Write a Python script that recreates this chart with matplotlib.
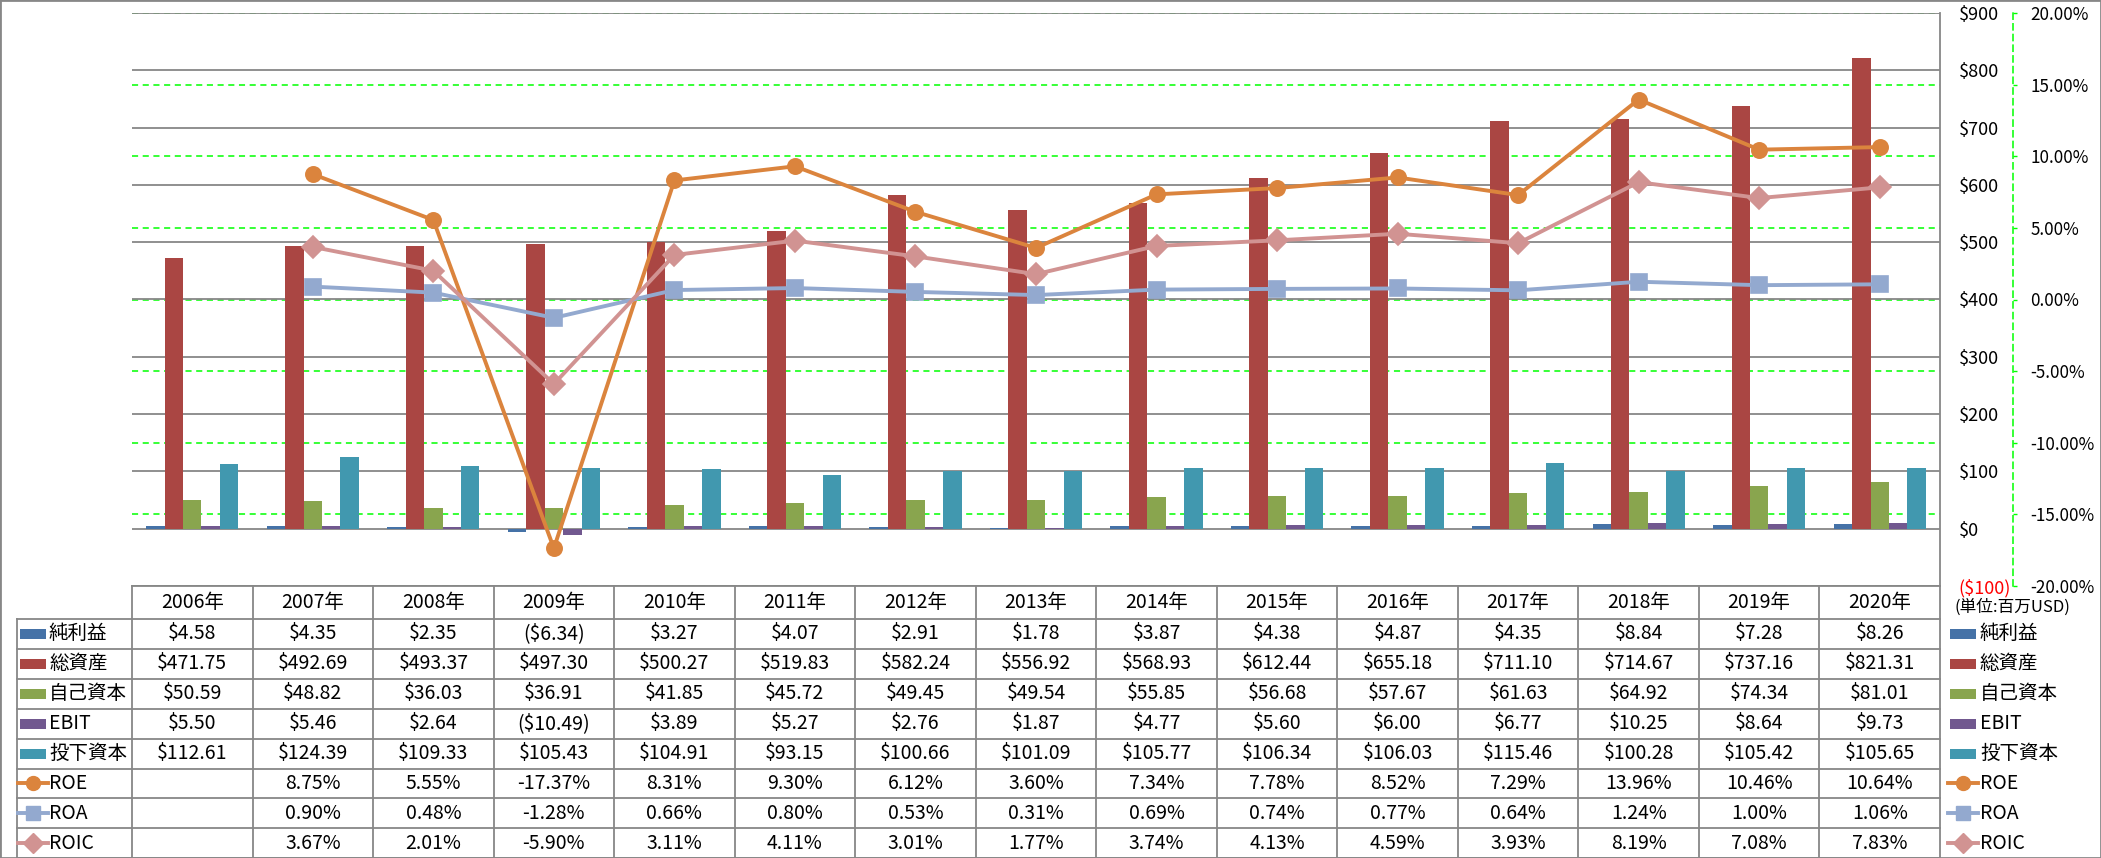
import numpy as np
import matplotlib
matplotlib.use("Agg")
import matplotlib.pyplot as plt
import matplotlib.transforms as mtransforms
from matplotlib.patches import Rectangle
from matplotlib.lines import Line2D

plt.rcParams['font.family'] = ['Noto Sans CJK JP', 'DejaVu Sans']

# ---------------- data ----------------
years = ['2006年', '2007年', '2008年', '2009年', '2010年', '2011年', '2012年', '2013年',
         '2014年', '2015年', '2016年', '2017年', '2018年', '2019年', '2020年']
net_income = [4.58, 4.35, 2.35, -6.34, 3.27, 4.07, 2.91, 1.78, 3.87, 4.38, 4.87, 4.35, 8.84, 7.28, 8.26]
total_assets = [471.75, 492.69, 493.37, 497.30, 500.27, 519.83, 582.24, 556.92, 568.93, 612.44,
                655.18, 711.10, 714.67, 737.16, 821.31]
equity = [50.59, 48.82, 36.03, 36.91, 41.85, 45.72, 49.45, 49.54, 55.85, 56.68, 57.67, 61.63,
          64.92, 74.34, 81.01]
ebit = [5.50, 5.46, 2.64, -10.49, 3.89, 5.27, 2.76, 1.87, 4.77, 5.60, 6.00, 6.77, 10.25, 8.64, 9.73]
invested_capital = [112.61, 124.39, 109.33, 105.43, 104.91, 93.15, 100.66, 101.09, 105.77, 106.34,
                    106.03, 115.46, 100.28, 105.42, 105.65]
roe = [np.nan, 8.75, 5.55, -17.37, 8.31, 9.30, 6.12, 3.60, 7.34, 7.78, 8.52, 7.29, 13.96, 10.46, 10.64]
roa = [np.nan, 0.90, 0.48, -1.28, 0.66, 0.80, 0.53, 0.31, 0.69, 0.74, 0.77, 0.64, 1.24, 1.00, 1.06]
roic = [np.nan, 3.67, 2.01, -5.90, 3.11, 4.11, 3.01, 1.77, 3.74, 4.13, 4.59, 3.93, 8.19, 7.08, 7.83]

bar_names = ['純利益', '総資産', '自己資本', 'EBIT', '投下資本']
bar_series = [net_income, total_assets, equity, ebit, invested_capital]
line_names = ['ROE', 'ROA', 'ROIC']
line_series = [roe, roa, roic]
primary_ticks = list(range(-100, 1000, 100))
secondary_ticks = list(range(-20, 25, 5))
unit_label = '(単位:百万USD)'

# ---------------- styles ----------------
bar_colors = ['#4572A7', '#AA4643', '#89A54E', '#71588F', '#4198AF']
line_colors = ['#DB843D', '#93A9CF', '#D19392']
line_markers = ['o', 's', 'D']
marker_sizes = [11, 11, 11]
GRAY = '#878787'
GREEN = '#00FF00'
FS = 14
FS_AX = 13

W, H = 2101, 858
fig = plt.figure(figsize=(W / 100, H / 100), dpi=100)
fig.patch.set_facecolor('white')

PL, PR, PT, PB = 132, 1940, 13, 586


def rect(x0, ytop, x1, ybot):
    return [x0 / W, 1 - ybot / H, (x1 - x0) / W, (ybot - ytop) / H]


ax = fig.add_axes(rect(PL, PT, PR, PB))
axg = ax.twinx()
ax2 = ax.twinx()
axg.set_zorder(0)
ax.set_zorder(1)
ax2.set_zorder(2)
for a in (ax, ax2, axg):
    a.patch.set_visible(False)

n = len(years)
x = np.arange(n)
ax.set_xlim(-0.5, n - 0.5)
ax.set_xticks([])

# secondary gridlines (behind bars)
axg.set_ylim(-20, 20)
axg.set_yticks(secondary_ticks)
axg.yaxis.grid(True, color=GREEN, linestyle=(0, (4, 3)), linewidth=1.1)
axg.tick_params(left=False, right=False, labelleft=False, labelright=False)
for s in axg.spines.values():
    s.set_visible(False)

# bars
bw = 0.153
for k, (vals, c) in enumerate(zip(bar_series, bar_colors)):
    ax.bar(x + (k - 2) * bw, vals, width=bw, color=c, zorder=2, linewidth=0)
ax.set_ylim(-100, 900)
ax.set_axisbelow(True)
ax.set_yticks(primary_ticks,
              labels=[f"${v}" if v >= 0 else f"(${-v})" for v in primary_ticks])
ax.yaxis.grid(True, color=GRAY, linewidth=1.3)
ax.yaxis.tick_right()
ax.tick_params(axis='y', length=0, pad=13.5, labelsize=FS_AX)
for t, v in zip(ax.get_yticklabels(), primary_ticks):
    t.set_color('red' if v < 0 else 'black')
for side in ('top', 'left', 'bottom'):
    ax.spines[side].set_visible(False)
ax.spines['right'].set_color(GRAY)
ax.spines['right'].set_linewidth(1.3)

# lines on secondary axis
for vals, c, m, ms in zip(line_series, line_colors, line_markers, marker_sizes):
    ax2.plot(x, vals, color=c, linewidth=2.8, marker=m, markersize=ms,
             markerfacecolor=c, markeredgecolor=c, markeredgewidth=1.2,
             solid_joinstyle='round', zorder=3, clip_on=False)
ax2.set_ylim(-20, 20)
ax2.set_yticks(secondary_ticks, labels=[f"{v:.2f}%" for v in secondary_ticks])
for t, v in zip(ax2.get_yticklabels(), secondary_ticks):
    t.set_color('red' if v < 0 else 'black')
ax2.tick_params(axis='y', length=3, width=1, color=GREEN, direction='out', pad=9.5,
                labelsize=12.3)
for side in ('top', 'left', 'bottom'):
    ax2.spines[side].set_visible(False)
ax2.spines['right'].set_position(('axes', (2013 - PL) / (PR - PL)))
ax2.spines['right'].set_color(GREEN)
ax2.spines['right'].set_linestyle((0, (4, 3)))
ax2.spines['right'].set_linewidth(1.1)

# ---------------- data table ----------------
tab = fig.add_axes([0, 0, 1, 1])
tab.set_xlim(0, W)
tab.set_ylim(H, 0)
tab.axis('off')
tab.set_zorder(4)
tab.patch.set_visible(False)
trans = mtransforms.blended_transform_factory(ax.transData, tab.transData)

HEAD_T, HEAD_B = 586, 619
ROW_H = 29.9
LX = 17
nrows = len(bar_names) + len(line_names)

# header borders
tab.plot([PL, PR], [HEAD_T, HEAD_T], color=GRAY, lw=1.3)
for i in range(n + 1):
    tab.plot([i - 0.5, i - 0.5], [HEAD_T, H], transform=trans, color=GRAY, lw=1.3)
for r in range(nrows + 1):
    yy = HEAD_B + r * ROW_H
    tab.plot([LX, PR], [yy, yy], color=GRAY, lw=1.3)
tab.plot([LX, LX], [HEAD_B, H], color=GRAY, lw=1.3)

for i, yl in enumerate(years):
    tab.text(i, (HEAD_T + HEAD_B) / 2, yl, transform=trans, ha='center', va='center', fontsize=FS)


def money(v):
    return f"${v:,.2f}" if v >= 0 else f"(${-v:,.2f})"


def draw_key(x0, yc, kind, idx):
    if kind == 'bar':
        tab.add_patch(Rectangle((x0 + 3, yc - 5), 26, 10, color=bar_colors[idx], lw=0))
    else:
        tab.add_line(Line2D([x0 + 1, x0 + 31], [yc, yc], color=line_colors[idx], lw=2.8))
        tab.add_line(Line2D([x0 + 16], [yc], marker=line_markers[idx], markersize=10,
                            color=line_colors[idx], markeredgewidth=1.0))


for r in range(nrows):
    yc = HEAD_B + (r + 0.5) * ROW_H
    if r < len(bar_names):
        name, vals, kind, idx = bar_names[r], bar_series[r], 'bar', r
        labels = [money(v) for v in vals]
    else:
        idx = r - len(bar_names)
        name, vals, kind = line_names[idx], line_series[idx], 'line'
        labels = ['' if np.isnan(v) else f"{v:.2f}%" for v in vals]
    draw_key(LX, yc, kind, idx)
    tab.text(LX + 32, yc, name, ha='left', va='center', fontsize=FS)
    for i, lab in enumerate(labels):
        tab.text(i, yc, lab, transform=trans, ha='center', va='center', fontsize=FS)
    # right-hand legend
    draw_key(1947, yc, kind, idx)
    tab.text(1980, yc, name, ha='left', va='center', fontsize=FS)

tab.text(1955, 607, unit_label, ha='left', va='center', fontsize=12)

# outer border
fig.add_artist(Rectangle((0, 0), 1, 1, transform=fig.transFigure, fill=False,
                         edgecolor=GRAY, linewidth=2))

fig.savefig('out.png', dpi=100)
